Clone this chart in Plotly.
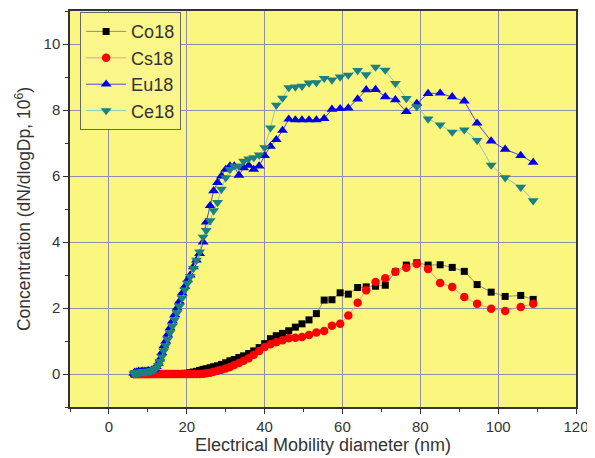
import plotly.graph_objects as go

# Electrical mobility diameter bins (nm)
diam = [6.4, 6.65, 6.9, 7.15, 7.4, 7.65, 7.95, 8.25, 8.55, 8.85,
        9.2, 9.5, 9.85, 10.2, 10.6, 11.0, 11.4, 11.8, 12.2, 12.7,
        13.1, 13.6, 14.1, 14.6, 15.1, 15.7, 16.3, 16.9, 17.5, 18.1,
        18.8, 19.5, 20.2, 20.9, 21.7, 22.5, 23.3, 24.2, 25.0, 26.0,
        26.9, 27.9, 28.9, 30.0, 31.1, 32.2, 33.4, 34.6, 35.9, 37.2,
        38.6, 40.0, 41.5, 43.0, 44.6, 46.2, 47.9, 49.6, 51.4, 53.3,
        55.3, 57.3, 59.4, 61.5, 63.9, 66.1, 68.5, 71.0, 73.6, 76.4,
        79.1, 82.0, 85.1, 88.2, 91.3, 94.6, 98.2, 101.8, 105.8, 109.0]

co18 = [0.0, 0.0, 0.0, 0.0, 0.0, 0.0, 0.0, 0.0, 0.0, 0.0,
        0.0, 0.0, 0.0, 0.0, 0.0, 0.0, 0.0, 0.0, 0.0, 0.0,
        0.0, 0.0, 0.0, 0.0, 0.0, 0.0, 0.0, 0.0, 0.0, 0.01,
        0.01, 0.02, 0.02, 0.04, 0.06, 0.08, 0.11, 0.14, 0.16, 0.19,
        0.22, 0.25, 0.29, 0.34, 0.40, 0.44, 0.50, 0.55, 0.62, 0.70,
        0.80, 0.92, 1.07, 1.16, 1.23, 1.31, 1.42, 1.52, 1.64, 1.83,
        2.24, 2.25, 2.46, 2.42, 2.62, 2.64, 2.66, 2.69, 3.10, 3.30,
        3.37, 3.30, 3.31, 3.23, 3.11, 2.71, 2.48, 2.35, 2.38, 2.26]

cs18 = [0.0, 0.0, 0.0, 0.0, 0.0, 0.0, 0.0, 0.0, 0.0, 0.0,
        0.0, 0.0, 0.0, 0.0, 0.0, 0.0, 0.0, 0.0, 0.0, 0.0,
        0.0, 0.0, 0.0, 0.0, 0.0, 0.0, 0.0, 0.0, 0.0, 0.0,
        0.0, 0.0, 0.0, 0.0, 0.0, 0.0, 0.0, 0.01, 0.02, 0.04,
        0.07, 0.10, 0.13, 0.17, 0.21, 0.27, 0.33, 0.40, 0.48, 0.58,
        0.70, 0.82, 0.90, 0.96, 1.02, 1.08, 1.10, 1.12, 1.18, 1.26,
        1.30, 1.46, 1.52, 1.77, 2.16, 2.54, 2.79, 2.90, 3.10, 3.22,
        3.33, 3.18, 2.76, 2.64, 2.33, 2.13, 1.98, 1.91, 2.03, 2.13]

eu18 = [0.02, 0.05, 0.0, 0.06, 0.04, 0.08, 0.05, 0.07, 0.09, 0.06,
        0.08, 0.07, 0.09, 0.10, 0.09, 0.11, 0.13, 0.17, 0.22, 0.32,
        0.45, 0.65, 0.85, 1.0, 1.2, 1.4, 1.6, 1.8, 2.0, 2.2,
        2.45, 2.65, 2.85, 3.0, 3.25, 3.45, 3.65, 4.0, 4.6, 5.1,
        5.55, 5.8, 6.0, 6.2, 6.3, 6.3, 6.02, 6.25, 6.32, 6.2,
        6.3, 6.62, 6.9, 7.1, 7.38, 7.72, 7.70, 7.70, 7.70, 7.70,
        7.74, 8.02, 8.04, 8.06, 8.33, 8.61, 8.62, 8.40, 8.31, 7.95,
        8.20, 8.50, 8.51, 8.40, 8.27, 7.60, 7.06, 6.81, 6.62, 6.41]

ce18 = [0.0, 0.03, 0.01, 0.05, 0.03, 0.06, 0.04, 0.06, 0.08, 0.05,
        0.07, 0.06, 0.08, 0.09, 0.08, 0.10, 0.11, 0.14, 0.18, 0.26,
        0.38, 0.52, 0.70, 0.86, 1.05, 1.25, 1.45, 1.65, 1.85, 2.05,
        2.3, 2.55, 2.75, 2.95, 3.2, 3.45, 3.7, 4.15, 4.35, 4.65,
        4.95, 5.2, 5.6, 5.95, 6.2, 6.3, 6.3, 6.45, 6.52, 6.56,
        6.64, 6.86, 7.46, 8.15, 8.36, 8.68, 8.70, 8.72, 8.82, 8.83,
        8.96, 8.91, 9.00, 9.06, 9.20, 9.07, 9.30, 9.21, 8.81, 8.35,
        8.10, 7.73, 7.55, 7.33, 7.40, 7.08, 6.33, 5.95, 5.66, 5.25]

series_names = ["Co18", "Cs18", "Eu18", "Ce18"]
x_ticks = [0, 20, 40, 60, 80, 100, 120]
y_ticks = [0, 2, 4, 6, 8, 10]

FONT = "Liberation Sans, Arial, sans-serif"

styles = [
    dict(symbol="square", size=7, color="#000000", line="#8c8c8c"),
    dict(symbol="circle", size=8.5, color="#ff0000", line="#ff9a9a"),
    dict(symbol="triangle-up", size=9.5, color="#0000e6", line="#4a4ae0"),
    dict(symbol="triangle-down", size=9.5, color="#1a8080", line="#8fc8c0"),
]

fig = go.Figure()
for name, ys, st in zip(series_names, [co18, cs18, eu18, ce18], styles):
    fig.add_trace(go.Scatter(
        x=diam, y=ys, name=name, mode="lines+markers",
        line=dict(color=st["line"], width=1),
        marker=dict(symbol=st["symbol"], size=st["size"], color=st["color"],
                    line=dict(width=0)),
    ))

axis_common = dict(
    showline=True, linecolor="#333333", linewidth=1.5, mirror=True,
    ticks="outside", ticklen=5, tickwidth=1.2, tickcolor="#333333",
    showgrid=True, gridcolor="#8e8ea8", gridwidth=1,
    zeroline=False, automargin=False,
    tickfont=dict(family=FONT, size=15, color="#333333"),
)

fig.update_xaxes(
    range=[-10, 120], tickvals=x_ticks,
    minor=dict(ticks="outside", ticklen=3, dtick=10, tick0=0, tickcolor="#333333", showgrid=False),
    title=dict(text="Electrical Mobility diameter (nm)",
               font=dict(family=FONT, size=18, color="#333333"), standoff=4),
    **axis_common,
)
fig.update_yaxes(
    range=[-1, 11], tickvals=y_ticks,
    minor=dict(ticks="outside", ticklen=3, dtick=1, tick0=0, tickcolor="#333333", showgrid=False),
    title=dict(text="Concentration (dN/dlogDp, 10<sup>6</sup>)",
               font=dict(family=FONT, size=17.5, color="#333333"), standoff=8),
    **axis_common,
)

# The page body adds an 8px offset, so the figure is 8px smaller on each axis
fig.update_layout(
    width=587, height=450,
    margin=dict(l=62, r=19, t=3, b=51),
    plot_bgcolor="#fbf67e", paper_bgcolor="#ffffff",
    showlegend=True,
    legend=dict(
        x=0.02, y=0.997, xanchor="left", yanchor="top",
        bgcolor="#fbf68a", bordercolor="#666666", borderwidth=1,
        font=dict(family=FONT, size=18, color="#333333"),
        tracegroupgap=0, itemwidth=40,
    ),
)

fig.write_html("out.html")
